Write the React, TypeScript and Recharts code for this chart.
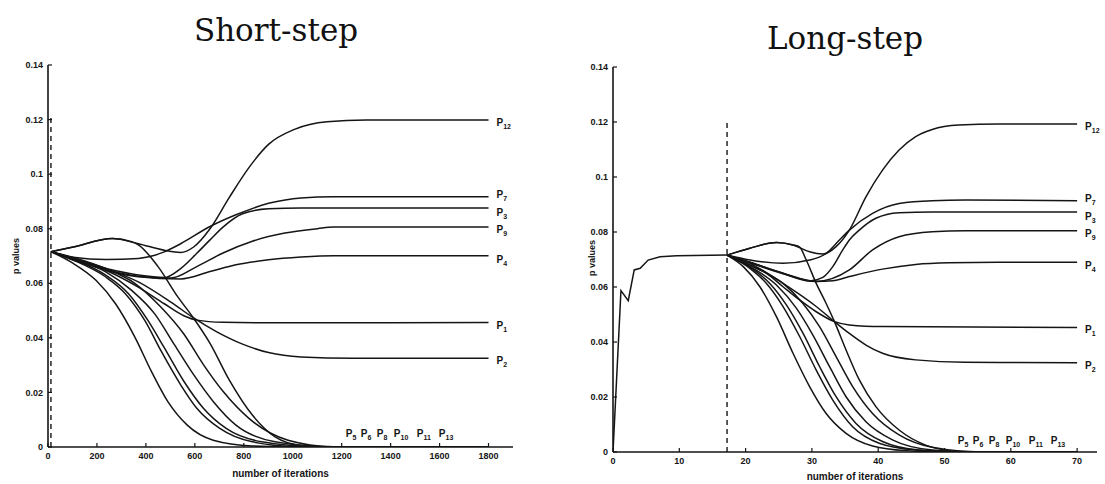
import React from 'react';
import { LineChart, Line, XAxis, YAxis, ReferenceLine, ReferenceDot } from 'recharts';

type Pt = [number, number];

// ---------- Short-step (x = number of iterations, y = p value) ----------
const shortXTicks = [0, 200, 400, 600, 800, 1000, 1200, 1400, 1600, 1800];
const yTicks = [0, 0.02, 0.04, 0.06, 0.08, 0.1, 0.12, 0.14];
const shortDashX = 12;

const shortP12: Pt[] = [[12,0.0716],[103,0.0733],[263,0.0764],[369,0.0745],[475,0.0721],[542,0.0713],[595,0.0733],[662,0.0800],[741,0.0915],[821,0.1024],[901,0.1109],[1007,0.1164],[1140,0.1192],[1300,0.1198],[1800,0.1198]];
const shortP7: Pt[] = [[12,0.0716],[103,0.0695],[236,0.0687],[369,0.0691],[475,0.0715],[542,0.0745],[662,0.0808],[768,0.0851],[901,0.0893],[1034,0.0913],[1167,0.0917],[1800,0.0917]];
const shortP3: Pt[] = [[12,0.0716],[103,0.0685],[236,0.0654],[369,0.0630],[475,0.0621],[542,0.0654],[608,0.0710],[662,0.0759],[715,0.0806],[795,0.0855],[901,0.0873],[1034,0.0876],[1800,0.0876]];
const shortP9: Pt[] = [[12,0.0716],[103,0.0688],[236,0.0650],[369,0.0626],[502,0.0619],[608,0.0661],[715,0.0711],[835,0.0754],[968,0.0784],[1101,0.0800],[1167,0.0806],[1800,0.0806]];
const shortP4: Pt[] = [[12,0.0716],[103,0.0690],[236,0.0648],[369,0.0624],[542,0.0616],[662,0.0643],[768,0.0668],[901,0.0686],[1034,0.0696],[1167,0.0701],[1800,0.0701]];
const shortP1: Pt[] = [[12,0.0716],[103,0.0691],[236,0.0648],[369,0.0586],[475,0.0525],[555,0.0481],[608,0.0465],[715,0.0457],[901,0.0455],[1800,0.0456]];
const shortP2: Pt[] = [[12,0.0716],[103,0.0691],[236,0.0654],[369,0.0605],[502,0.0531],[595,0.0473],[688,0.0423],[795,0.0377],[901,0.0346],[1034,0.0330],[1247,0.0325],[1800,0.0325]];
const shortP5: Pt[] = [[12,0.0716],[103,0.0673],[196,0.0611],[276,0.0525],[356,0.0401],[422,0.0278],[489,0.0167],[569,0.0080],[675,0.0025],[835,0.0004],[1034,0],[1800,0]];
const shortP6: Pt[] = [[12,0.0716],[103,0.0685],[236,0.0623],[316,0.0562],[396,0.0463],[462,0.0352],[542,0.0228],[608,0.0142],[702,0.0068],[835,0.0019],[1034,0.0001],[1200,0],[1800,0]];
const shortP8: Pt[] = [[12,0.0716],[103,0.0688],[236,0.0630],[329,0.0562],[409,0.0463],[475,0.0364],[555,0.0241],[635,0.0142],[728,0.0068],[874,0.0019],[1101,0.0001],[1250,0],[1800,0]];
const shortP10: Pt[] = [[12,0.0716],[103,0.0691],[236,0.0642],[342,0.0574],[436,0.0488],[515,0.0377],[595,0.0265],[675,0.0167],[768,0.0080],[928,0.0019],[1140,0.0001],[1300,0],[1800,0]];
const shortP11: Pt[] = [[12,0.0716],[103,0.0695],[236,0.0654],[356,0.0599],[462,0.0512],[555,0.0414],[635,0.0302],[715,0.0204],[821,0.0105],[981,0.0025],[1167,0.0001],[1300,0],[1800,0]];
const shortP13: Pt[] = [[12,0.0716],[103,0.0733],[263,0.0764],[342,0.0752],[369,0.0741],[449,0.0662],[529,0.0552],[595,0.0472],[662,0.0380],[741,0.0245],[835,0.0117],[928,0.0037],[1034,0.0006],[1167,0],[1800,0]];

// ---------- Long-step (x = number of iterations, y = p value) ----------
const longXTicks = [0, 10, 20, 30, 40, 50, 60, 70];
const longDashX = 17.2;

const longWarmup: Pt[] = [[0,0],[1.2,0.0587],[2.3,0.0550],[3.2,0.0662],[4.1,0.0668],[5.3,0.0698],[7.1,0.0710],[9.6,0.0714],[17.2,0.0716]];
const longP12: Pt[] = [[17.2,0.0716],[20.65,0.0741],[24.65,0.0762],[27.15,0.0753],[29.65,0.0728],[31.65,0.0720],[33.65,0.0747],[35.65,0.0807],[38.15,0.0928],[40.65,0.1025],[43.15,0.1098],[45.65,0.1147],[48.15,0.1173],[52.15,0.1189],[58.15,0.1193],[70,0.1193]];
const longP7: Pt[] = [[17.2,0.0716],[20.65,0.0698],[25.65,0.0686],[29.65,0.0698],[32.15,0.0722],[34.15,0.0771],[35.65,0.0807],[39.15,0.0868],[43.15,0.0904],[48.15,0.0914],[53.15,0.0916],[70,0.0914]];
const longP3: Pt[] = [[17.2,0.0716],[20.65,0.0690],[25.65,0.0650],[29.65,0.0622],[31.65,0.0635],[33.15,0.0674],[34.65,0.0735],[35.65,0.0771],[37.15,0.0807],[39.65,0.0850],[43.15,0.0870],[48.15,0.0873],[70,0.0873]];
const longP9: Pt[] = [[17.2,0.0716],[20.65,0.0688],[25.65,0.0648],[30.65,0.0620],[35.65,0.0662],[39.15,0.0735],[43.15,0.0783],[48.15,0.0801],[53.15,0.0805],[70,0.0805]];
const longP4: Pt[] = [[17.2,0.0716],[20.65,0.0690],[25.65,0.0650],[30.65,0.0620],[33.15,0.0623],[35.65,0.0638],[40.65,0.0665],[45.65,0.0682],[50.65,0.0688],[58.15,0.0690],[70,0.0690]];
const longP1: Pt[] = [[17.2,0.0716],[20.65,0.0680],[23.15,0.0650],[25.65,0.0601],[28.15,0.0553],[30.65,0.0510],[33.4,0.0474],[35.65,0.0462],[40.65,0.0456],[70,0.0453]];
const longP2: Pt[] = [[17.2,0.0716],[20.65,0.0686],[25.65,0.0613],[30.65,0.0529],[33.4,0.0474],[35.65,0.0431],[38.15,0.0389],[40.65,0.0359],[45.65,0.0335],[53.15,0.0326],[70,0.0325]];
const longP5: Pt[] = [[17.2,0.0716],[19.65,0.0674],[22.15,0.0601],[24.65,0.0492],[27.15,0.0359],[29.65,0.0238],[32.15,0.0140],[35.15,0.0068],[39.15,0.0022],[44.15,0.0005],[50.65,0],[70,0]];
const longP6: Pt[] = [[17.2,0.0716],[20.65,0.0668],[23.15,0.0613],[25.65,0.0529],[28.15,0.0420],[30.65,0.0298],[33.15,0.0189],[36.15,0.0092],[40.15,0.0032],[45.65,0.0007],[52.15,0],[70,0]];
const longP8: Pt[] = [[17.2,0.0716],[20.65,0.0672],[23.65,0.0613],[26.15,0.0535],[28.65,0.0432],[31.15,0.0311],[33.65,0.0201],[36.65,0.0104],[40.65,0.0038],[46.15,0.0007],[53.15,0],[70,0]];
const longP10: Pt[] = [[17.2,0.0716],[21.15,0.0668],[24.65,0.0607],[27.65,0.0523],[30.15,0.0425],[32.65,0.0311],[35.15,0.0201],[38.15,0.0110],[42.15,0.0044],[48.15,0.0007],[54.15,0],[70,0]];
const longP11: Pt[] = [[17.2,0.0716],[21.65,0.0668],[25.65,0.0613],[28.65,0.0540],[31.15,0.0456],[33.65,0.0347],[36.15,0.0238],[39.15,0.0140],[43.15,0.0062],[48.15,0.0017],[55.65,0],[70,0]];
const longP13: Pt[] = [[17.2,0.0716],[20.65,0.0741],[24.65,0.0762],[27.15,0.0753],[28.15,0.0745],[29.15,0.0698],[30.65,0.0613],[32.15,0.0540],[33.4,0.0474],[35.15,0.0371],[37.15,0.0262],[39.65,0.0165],[43.15,0.0080],[47.15,0.0025],[50.65,0.0005],[54,0],[70,0]];

// labels
const endLabelNames = ['12', '7', '3', '9', '4', '1', '2'];
const endLabelNudge = [6, 1, 8, 6, 7, 6, 6];
const zeroLabelNames = ['5', '6', '8', '10', '11', '13'];
const zeroLabelOffsets = [0, 15, 31, 48, 71, 93];
const shortZeroLabelAt: Pt = [1217, 0.0037];
const longZeroLabelAt: Pt = [52.0, 0.0029];

const FONT = "'Liberation Sans', Arial, Helvetica, sans-serif";
const INK = '#151515';

const toObj = (pts: Pt[]) => pts.map(([x, y]) => ({ x, y }));

const shortLabelled: Pt[][] = [shortP12, shortP7, shortP3, shortP9, shortP4, shortP1, shortP2];
const shortZero: Pt[][] = [shortP5, shortP6, shortP8, shortP10, shortP11, shortP13];
const longLabelled: Pt[][] = [longP12, longP7, longP3, longP9, longP4, longP1, longP2];
const longZero: Pt[][] = [longP5, longP6, longP8, longP10, longP11, longP13];

const makeEndLabel = (sub: string, nudge: number, lastIndex: number) => (props: any) => {
  if (props.index !== lastIndex) return null;
  const vb = props.viewBox || {};
  const x = (props.x ?? vb.x) as number;
  const y = (props.y ?? vb.y) as number;
  if (x == null || y == null) return null;
  return (
    <text x={x + 8} y={y + nudge} fontFamily={FONT} fontWeight="bold" fontSize={10} fill={INK}>
      P<tspan dy={3} fontSize={7}>{sub}</tspan>
    </text>
  );
};

const ZeroLabels = (props: any) => {
  const vb = props.viewBox || {};
  const x = (vb.x ?? props.x) as number;
  const y = (vb.y ?? props.y) as number;
  if (x == null || y == null) return null;
  return (
    <g>
      {zeroLabelNames.map((s, i) => (
        <text key={s} x={x + zeroLabelOffsets[i]} y={y} fontFamily={FONT} fontWeight="bold" fontSize={10} fill={INK}>
          P<tspan dy={3} fontSize={7}>{s}</tspan>
        </text>
      ))}
    </g>
  );
};

const yFmt = (v: number) => (v === 0 ? '0' : String(Number(v.toFixed(2))));

const TICK_GAP = 5;
const TICK_LEN = 4;

const XTick = (props: any) => {
  const { x, y, payload } = props;
  return (
    <g>
      <line x1={x} x2={x} y1={y - TICK_GAP} y2={y - TICK_GAP - TICK_LEN} stroke={INK} strokeWidth={1.2} />
      <text x={x} y={y} dy="0.75em" textAnchor="middle" fontFamily={FONT} fontWeight="bold" fontSize={9} fill={INK}>
        {String(payload.value)}
      </text>
    </g>
  );
};

const YTick = (props: any) => {
  const { x, y, payload } = props;
  return (
    <g>
      <line x1={x + TICK_GAP} x2={x + TICK_GAP + TICK_LEN} y1={y} y2={y} stroke={INK} strokeWidth={1.2} />
      <text x={x} y={y} dy="0.35em" textAnchor="end" fontFamily={FONT} fontWeight="bold" fontSize={9} fill={INK}>
        {yFmt(payload.value)}
      </text>
    </g>
  );
};

const axisLine = { stroke: INK, strokeWidth: 1.6 };

function Panel(props: {
  left: number;
  width: number;
  margin: any;
  xHeight: number;
  xDomain: [number, number];
  xTicks: number[];
  dashX: number;
  dashTop: number;
  labelled: Pt[][];
  zero: Pt[][];
  extra?: Pt[];
  zeroAt: Pt;
  xLabelOffset: number;
}) {
  const p = props;
  return (
    <div style={{ position: 'absolute', left: p.left, top: 0 }}>
      <LineChart width={p.width} height={484} margin={p.margin}>
        <XAxis
          type="number"
          dataKey="x"
          domain={p.xDomain}
          ticks={p.xTicks}
          allowDataOverflow
          height={p.xHeight}
          axisLine={axisLine}
          tickLine={false}
          tickSize={0}
          tickMargin={TICK_GAP}
          tick={<XTick />}
          label={{ value: 'number of iterations', position: 'insideBottom', offset: p.xLabelOffset, fontSize: 10, fontWeight: 'bold', fill: INK, fontFamily: FONT }}
        />
        <YAxis
          type="number"
          dataKey="y"
          domain={[0, 0.14]}
          ticks={yTicks}
          width={48}
          allowDataOverflow
          axisLine={axisLine}
          tickLine={false}
          tickSize={0}
          tickMargin={TICK_GAP}
          tick={<YTick />}
        />
        <ReferenceLine
          segment={[{ x: p.dashX, y: 0 }, { x: p.dashX, y: p.dashTop }]}
          stroke={INK}
          strokeWidth={1.4}
          strokeDasharray="5 4"
        />
        {p.extra && (
          <Line data={toObj(p.extra)} dataKey="y" type="linear" stroke={INK} strokeWidth={1.5} dot={false} isAnimationActive={false} />
        )}
        {p.zero.map((s, i) => (
          <Line key={'z' + i} data={toObj(s)} dataKey="y" type="monotone" stroke={INK} strokeWidth={1.5} dot={false} isAnimationActive={false} />
        ))}
        {p.labelled.map((s, i) => (
          <Line
            key={'l' + i}
            data={toObj(s)}
            dataKey="y"
            type="monotone"
            stroke={INK}
            strokeWidth={1.5}
            dot={false}
            isAnimationActive={false}
            label={makeEndLabel(endLabelNames[i], endLabelNudge[i], s.length - 1)}
          />
        ))}
        <ReferenceDot x={p.zeroAt[0]} y={p.zeroAt[1]} r={0} fill="none" stroke="none" label={<ZeroLabels />} />
      </LineChart>
    </div>
  );
}

export default function App() {
  return (
    <div style={{ position: 'absolute', left: 0, top: 0, width: 1105, height: 484, background: '#fff', overflow: 'hidden' }}>
      <Panel
        left={0}
        width={540}
        margin={{ top: 65, right: 27, bottom: 0, left: 0 }}
        xHeight={37}
        xDomain={[0, 1900]}
        xTicks={shortXTicks}
        dashX={shortDashX}
        dashTop={0.122}
        labelled={shortLabelled}
        zero={shortZero}
        zeroAt={shortZeroLabelAt}
        xLabelOffset={7}
      />
      <Panel
        left={565}
        width={540}
        margin={{ top: 67, right: 8, bottom: 0, left: 0 }}
        xHeight={32}
        xDomain={[0, 73]}
        xTicks={longXTicks}
        dashX={longDashX}
        dashTop={0.12}
        labelled={longLabelled}
        zero={longZero}
        extra={longWarmup}
        zeroAt={longZeroLabelAt}
        xLabelOffset={4}
      />
      <svg width={1105} height={484} style={{ position: 'absolute', left: 0, top: 0, pointerEvents: 'none' }}>
        <text x={276} y={41} textAnchor="middle" fontFamily="'DejaVu Serif', serif" fontSize={31} fill="#111">Short-step</text>
        <text x={845} y={49} textAnchor="middle" fontFamily="'DejaVu Serif', serif" fontSize={31} fill="#111">Long-step</text>
        <text transform="translate(19,256) rotate(-90)" textAnchor="middle" fontFamily={FONT} fontWeight="bold" fontSize={9} fill={INK}>p values</text>
        <text transform="translate(595,258) rotate(-90)" textAnchor="middle" fontFamily={FONT} fontWeight="bold" fontSize={9} fill={INK}>p values</text>
      </svg>
    </div>
  );
}
